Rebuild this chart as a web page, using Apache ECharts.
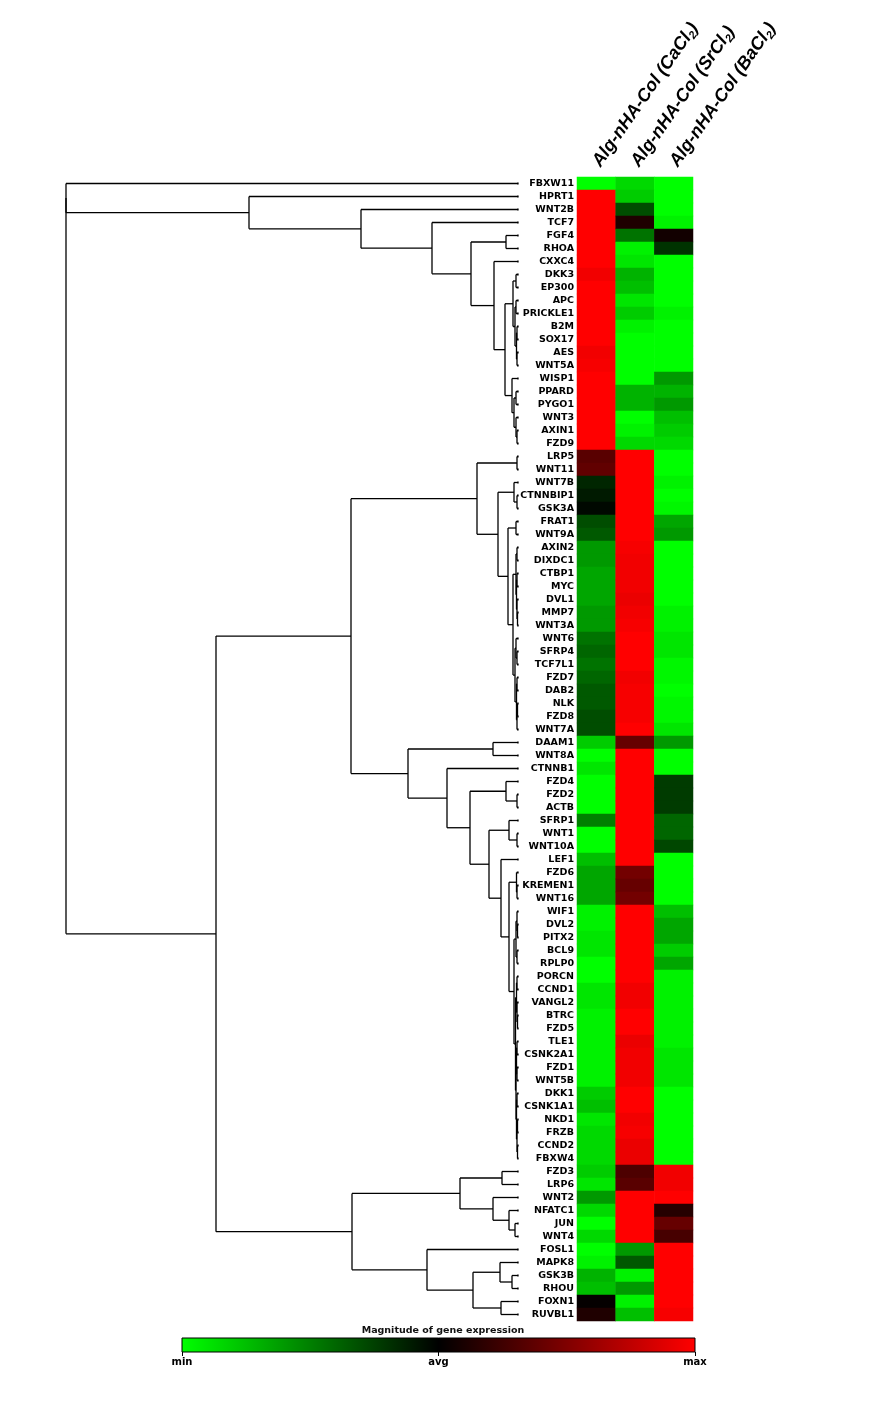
<!DOCTYPE html>
<html>
<head>
<meta charset="utf-8">
<script src="https://cdn.jsdelivr.net/npm/echarts@6/dist/echarts.min.js"></script>
<style>html,body{margin:0;padding:0;background:#fff;}#c{width:871px;height:1411px;}</style>
</head>
<body>
<div id="c"></div>
<script>
const columns = ['CaCl', 'SrCl', 'BaCl'];
const genes = ['FBXW11','HPRT1','WNT2B','TCF7','FGF4','RHOA','CXXC4','DKK3','EP300','APC','PRICKLE1','B2M','SOX17','AES','WNT5A','WISP1','PPARD','PYGO1','WNT3','AXIN1','FZD9',
'LRP5','WNT11','WNT7B','CTNNBIP1','GSK3A','FRAT1','WNT9A','AXIN2','DIXDC1','CTBP1','MYC','DVL1','MMP7','WNT3A','WNT6','SFRP4','TCF7L1','FZD7','DAB2','NLK','FZD8','WNT7A',
'DAAM1','WNT8A','CTNNB1','FZD4','FZD2','ACTB','SFRP1','WNT1','WNT10A','LEF1','FZD6','KREMEN1','WNT16',
'WIF1','DVL2','PITX2','BCL9','RPLP0','PORCN','CCND1','VANGL2','BTRC','FZD5','TLE1','CSNK2A1','FZD1','WNT5B','DKK1','CSNK1A1','NKD1','FRZB','CCND2','FBXW4',
'FZD3','LRP6','WNT2','NFATC1','JUN','WNT4','FOSL1','MAPK8','GSK3B','RHOU','FOXN1','RUVBL1'];

const caCl2 = [-1.0,1.0,1.0,1.0,1.0,1.0,1.0,0.95,1.0,1.0,1.0,1.0,1.0,0.95,0.97,1.0,1.0,1.0,1.0,1.0,1.0,
0.35,0.38,-0.15,-0.1,-0.03,-0.3,-0.35,
-0.6,-0.6,-0.65,-0.65,-0.65,-0.6,-0.6,
-0.45,-0.4,-0.45,-0.4,-0.35,-0.35,-0.3,-0.3,
-0.8,-1.0,-0.9,-1.0,-1.0,-1.0,-0.5,-1.0,-1.0,-0.75,-0.65,-0.65,-0.65,
-0.95,-0.95,-0.9,-0.9,-1.0,-1.0,-0.9,-0.9,-0.95,-0.95,-0.95,-0.95,-0.95,-0.95,-0.8,-0.75,-0.9,-0.85,-0.85,-0.85,
-0.8,-0.9,-0.6,-0.85,-1.0,-0.85,-1.0,-0.95,-0.7,-0.75,0.02,0.12];

const srCl2 = [-0.85,-0.8,-0.3,0.12,-0.45,-0.95,-0.9,-0.7,-0.75,-0.9,-0.8,-0.95,-1.0,-1.0,-1.0,-1.0,-0.7,-0.7,-1.0,-0.95,-0.85,
1.0,1.0,1.0,1.0,1.0,1.0,1.0,
0.97,0.95,0.95,0.95,0.92,0.95,0.97,
1.0,1.0,1.0,0.95,0.97,0.97,0.97,1.0,
0.4,1.0,1.0,1.0,1.0,1.0,1.0,1.0,1.0,1.0,0.45,0.4,0.45,
1.0,1.0,1.0,1.0,1.0,1.0,0.95,0.95,1.0,1.0,0.92,0.95,0.95,0.95,1.0,1.0,0.95,0.97,0.92,0.92,
0.3,0.35,1.0,1.0,1.0,1.0,-0.6,-0.35,-0.95,-0.6,-0.95,-0.75];

const baCl2 = [-1.0,-1.0,-1.0,-0.95,0.07,-0.2,-1.0,-1.0,-1.0,-1.0,-0.95,-1.0,-1.0,-1.0,-1.0,-0.6,-0.7,-0.6,-0.75,-0.8,-0.85,
-1.0,-1.0,-0.95,-1.0,-0.97,-0.65,-0.6,
-1.0,-1.0,-1.0,-1.0,-1.0,-0.95,-0.95,
-0.9,-0.9,-0.97,-0.97,-1.0,-0.97,-0.97,-0.9,
-0.6,-1.0,-1.0,-0.23,-0.23,-0.23,-0.4,-0.4,-0.28,-1.0,-1.0,-1.0,-1.0,
-0.75,-0.65,-0.65,-0.8,-0.65,-0.95,-0.95,-0.95,-0.95,-0.95,-0.95,-0.9,-0.9,-0.9,-1.0,-1.0,-1.0,-1.0,-1.0,-1.0,
0.95,0.95,1.0,0.15,0.4,0.28,1.0,1.0,1.0,1.0,1.0,0.97];

// hierarchical clustering tree: [distance, left, right]
const tree =
[452,
  [452, 'FBXW11',
    [269, 'HPRT1',
      [157, 'WNT2B',
        [86, 'TCF7',
          [47,
            [12, 'FGF4', 'RHOA'],
            [24, 'CXXC4',
              [13,
                [5, [2,'DKK3','EP300'], [3, [2,'APC','PRICKLE1'], [1.5,[1,'B2M','SOX17'],[1,'AES','WNT5A']]]],
                [6, 'WISP1', [4, [2,'PPARD','PYGO1'], [2,'WNT3',[1,'AXIN1','FZD9']]]]
              ]
            ]
          ]
        ]
      ]
    ]
  ],
  [302,
    [167,
      [41,
        [1,'LRP5','WNT11'],
        [20,
          [4,'WNT7B',[1,'CTNNBIP1','GSK3A']],
          [10,
            [2,'FRAT1','WNT9A'],
            [5,
              [2,[1,'AXIN2','DIXDC1'],[1.5,[1,'CTBP1','MYC'],[1,'DVL1',[0.5,'MMP7','WNT3A']]]],
              [3,[2,'WNT6',[1,'SFRP4','TCF7L1']],[1.5,[1,'FZD7','DAB2'],[1,[0.5,'NLK','FZD8'],'WNT7A']]]
            ]
          ]
        ]
      ],
      [110,
        [25,'DAAM1','WNT8A'],
        [71,'CTNNB1',
          [48,
            [12,'FZD4',[1,'FZD2','ACTB']],
            [29,
              [9,'SFRP1',[1,'WNT1','WNT10A']],
              [17,'LEF1',
                [9,
                  [1.5,'FZD6',[1,'KREMEN1','WNT16']],
                  [4,
                    [2,[1,'WIF1',[0.5,'DVL2','PITX2']],[1,'BCL9','RPLP0']],
                    [2.5,
                      [1.5,[1,'PORCN','CCND1'],[1,'VANGL2',[0.5,'BTRC','FZD5']]],
                      [2,[1.5,[1,'TLE1','CSNK2A1'],[1,'FZD1','WNT5B']],[1.5,[1,'DKK1','CSNK1A1'],[1,[0.5,'NKD1','FRZB'],[0.5,'CCND2','FBXW4']]]]
                    ]
                  ]
                ]
              ]
            ]
          ]
        ]
      ]
    ],
    [166,
      [58,[16,'FZD3','LRP6'],[25,'WNT2',[9,'NFATC1',[3,'JUN','WNT4']]]],
      [91,'FOSL1',[45,[18,'MAPK8',[6,'GSK3B','RHOU']],[17,'FOXN1','RUVBL1']]]
    ]
  ]
];

const scaleTicks = [-1, 0, 1];
const scaleLabels = ['min', 'avg', 'max'];

// build dendrogram segments from the tree
const segs = [];
function layout(node) {
  if (typeof node === 'string') {
    const i = genes.indexOf(node);
    segs.push([0, i - 0.08, 0, i + 0.08]);
    return { y: i, h: 0 };
  }
  const h = node[0];
  const a = layout(node[1]), b = layout(node[2]);
  segs.push([h, a.y, h, b.y]);
  segs.push([h, a.y, a.h, a.y]);
  segs.push([h, b.y, b.h, b.y]);
  return { y: (a.y + b.y) / 2, h: h };
}
layout(tree);

const heat = [];
[caCl2, srCl2, baCl2].forEach((arr, j) => arr.forEach((v, i) => heat.push([j, i, v])));

const chart = echarts.init(document.getElementById('c'), null, { renderer: 'canvas' });
const labelFont = 'DejaVu Sans';
chart.setOption({
  animation: false,
  backgroundColor: '#fff',
  title: {
    text: 'Magnitude of gene expression',
    left: 438, top: 1321, textAlign: 'center',
    textStyle: { fontFamily: labelFont, fontSize: 9.5, fontWeight: 'bold', color: '#111' }
  },
  grid: [
    { left: 577, top: 177, width: 116, height: 1144 },
    { left: 66, top: 177, width: 452, height: 1144 },
    { left: 182, top: 1338, width: 513, height: 14 }
  ],
  xAxis: [
    {
      gridIndex: 0, type: 'category', position: 'top', data: columns,
      axisLine: { show: false }, axisTick: { show: false },
      axisLabel: {
        rotate: -55, margin: 12, interval: 0,
        formatter: v => '{a|Alg-nHA-Col (' + v + '}{s|2}{a|)}',
        rich: {
          a: { fontFamily: 'Liberation Sans', fontSize: 18, fontWeight: 'bold', fontStyle: 'italic', color: '#000', lineHeight: 18 },
          s: { fontFamily: 'Liberation Sans', fontSize: 11, fontWeight: 'bold', fontStyle: 'italic', color: '#000', lineHeight: 18, padding: [10, 0, 0, 0] }
        }
      }
    },
    { gridIndex: 1, type: 'value', min: 0, max: 452, inverse: true, show: false },
    {
      gridIndex: 2, type: 'value', min: -1, max: 1, interval: 1,
      axisLine: { show: false }, splitLine: { show: false },
      axisTick: { show: true, length: 4, lineStyle: { color: '#000', width: 1 } },
      axisLabel: {
        margin: 5, fontFamily: labelFont, fontSize: 10, fontWeight: 'bold', color: '#000',
        formatter: v => scaleLabels[scaleTicks.indexOf(v)] || ''
      }
    }
  ],
  yAxis: [
    {
      gridIndex: 0, type: 'category', data: genes, inverse: true,
      axisLine: { show: false }, axisTick: { show: false },
      axisLabel: { margin: 3, interval: 0, fontFamily: labelFont, fontSize: 9.5, fontWeight: 'bold', color: '#000' }
    },
    { gridIndex: 1, type: 'value', min: -0.5, max: 87.5, inverse: true, show: false },
    { gridIndex: 2, type: 'value', min: 0, max: 1, show: false }
  ],
  visualMap: {
    show: false, type: 'continuous', min: -1, max: 1, seriesIndex: 0, dimension: 2,
    inRange: { color: ['#00ff00', '#000000', '#ff0000'] }
  },
  series: [
    {
      type: 'heatmap', xAxisIndex: 0, yAxisIndex: 0, data: heat,
      itemStyle: { borderWidth: 0 }, emphasis: { disabled: true }, progressive: 0
    },
    {
      type: 'custom', xAxisIndex: 1, yAxisIndex: 1, data: segs, clip: false,
      encode: { x: [0, 2], y: [1, 3] },
      renderItem: (params, api) => {
        const p1 = api.coord([api.value(0), api.value(1)]);
        const p2 = api.coord([api.value(2), api.value(3)]);
        return { type: 'line', shape: { x1: p1[0], y1: p1[1], x2: p2[0], y2: p2[1] }, style: { stroke: '#000', lineWidth: 1.3 } };
      }
    },
    {
      type: 'custom', xAxisIndex: 2, yAxisIndex: 2, data: [[scaleTicks[0], scaleTicks[2]]],
      encode: { x: [0, 1] }, clip: false,
      renderItem: (params, api) => {
        const a = api.coord([api.value(0), 1]);
        const b = api.coord([api.value(1), 0]);
        return {
          type: 'rect',
          shape: { x: a[0], y: a[1], width: b[0] - a[0], height: b[1] - a[1] },
          style: {
            fill: new echarts.graphic.LinearGradient(0, 0, 1, 0, [
              { offset: 0, color: '#00ff00' }, { offset: 0.5, color: '#000000' }, { offset: 1, color: '#ff0000' }
            ]),
            stroke: '#000', lineWidth: 1
          }
        };
      }
    }
  ]
});
</script>
</body>
</html>
